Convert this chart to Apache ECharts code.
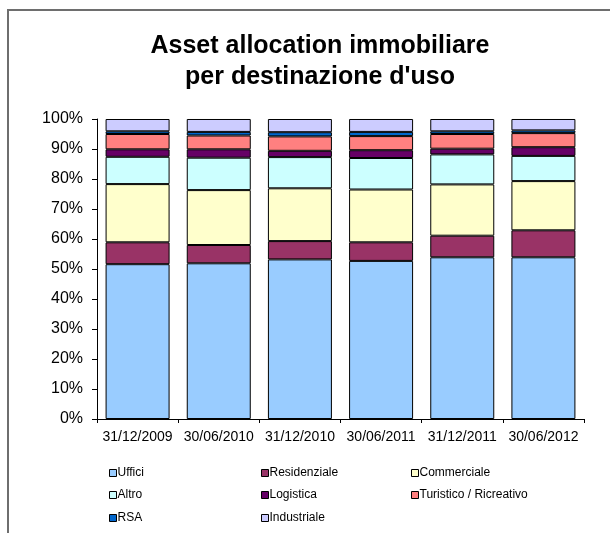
<!DOCTYPE html>
<html>
<head>
<meta charset="utf-8">
<script src="https://cdn.jsdelivr.net/npm/echarts@6/dist/echarts.min.js"></script>
<style>
  html, body { margin: 0; padding: 0; background: #fff; }
  #chart { width: 610px; height: 533px; }
</style>
</head>
<body>
<div id="chart"></div>
<script>
// =====================
// Data (percent of portfolio)
// =====================
const dates = ["31/12/2009", "30/06/2010", "31/12/2010", "30/06/2011", "31/12/2011", "30/06/2012"]

const uffici       = [51.6, 51.9, 53.2, 52.7, 53.9, 53.9]
const residenziale = [7.3, 6.1, 6.1, 6.2, 7.2, 9.0]
const commerciale  = [19.4, 18.3, 17.6, 17.6, 17.1, 16.4]
const altro        = [9.1, 10.8, 10.4, 10.5, 10.0, 8.4]
const logistica    = [2.5, 2.8, 2.1, 2.6, 1.9, 2.9]
const turistico    = [5.1, 4.6, 4.8, 4.7, 4.9, 4.7]
const rsa          = [0.9, 1.2, 1.4, 1.4, 0.9, 0.9]
const industriale  = [4.1, 4.3, 4.4, 4.3, 4.1, 3.8]

const yTicks = [0, 10, 20, 30, 40, 50, 60, 70, 80, 90, 100]

// =====================
// Series setup (bottom -> top)
// =====================
const SERIES = [
  { name: "Uffici",                 data: uffici,       color: "#99CCFF" },
  { name: "Residenziale",           data: residenziale, color: "#993366" },
  { name: "Commerciale",            data: commerciale,  color: "#FFFFCC" },
  { name: "Altro",                  data: altro,        color: "#CCFFFF" },
  { name: "Logistica",              data: logistica,    color: "#660066" },
  { name: "Turistico / Ricreativo", data: turistico,    color: "#FF8080" },
  { name: "RSA",                    data: rsa,          color: "#0066CC" },
  { name: "Industriale",            data: industriale,  color: "#CCCCFF" }
]

// legend grid: 3 columns, filled row by row
const LEGEND_X = [109, 261, 411]
const LEGEND_Y = [473, 495, 518]

const FONT = "Liberation Sans, Arial, sans-serif"

const echart = echarts.init(document.getElementById("chart"))

const option = {
  animation: false,
  backgroundColor: "#fff",

  title: {
    text: "Asset allocation immobiliare\nper destinazione d'uso",
    left: 315,
    textAlign: "center",
    top: 26,
    textStyle: {
      fontFamily: FONT,
      fontSize: 25,
      fontWeight: "bold",
      color: "#000",
      lineHeight: 31
    }
  },

  legend: SERIES.map((s, i) => ({
    data: [s.name],
    left: LEGEND_X[i % 3],
    top: LEGEND_Y[Math.floor(i / 3)] - 7,
    padding: 0,
    itemWidth: 7,
    itemHeight: 7,
    icon: "rect",
    selectedMode: false,
    textStyle: {
      fontFamily: FONT,
      fontSize: 12,
      lineHeight: 14,
      color: "#000",
      padding: [0, 0, 0, -4]
    },
    itemStyle: { borderColor: "#000", borderWidth: 1 }
  })),

  grid: {
    left: 97,
    right: 26,
    top: 119,
    bottom: 114
  },

  xAxis: {
    type: "category",
    data: dates,
    axisLine: { lineStyle: { color: "#000", width: 1 } },
    axisTick: { show: true, alignWithLabel: false, length: 4, lineStyle: { color: "#000" } },
    axisLabel: {
      interval: 0,
      fontFamily: FONT,
      fontSize: 14,
      color: "#000",
      margin: 11
    }
  },

  yAxis: {
    type: "value",
    min: yTicks[0],
    max: yTicks[yTicks.length - 1],
    interval: 10,
    axisLine: { show: true, lineStyle: { color: "#000", width: 1 } },
    axisTick: { show: true, length: 5, lineStyle: { color: "#000" } },
    splitLine: { show: false },
    axisLabel: {
      fontFamily: FONT,
      fontSize: 16,
      color: "#000",
      margin: 14,
      formatter: "{value}%"
    }
  },

  graphic: [
    {
      type: "polyline",
      shape: { points: [[8, 533], [8, 10], [610, 10]] },
      style: { stroke: "#6e6e6e", lineWidth: 2, fill: null },
      silent: true
    }
  ],

  series: SERIES.map(s => ({
    name: s.name,
    type: "bar",
    stack: "alloc",
    data: s.data,
    barWidth: 64,
    itemStyle: {
      color: s.color,
      borderColor: "#000",
      borderWidth: 1
    }
  }))
}

echart.setOption(option)
</script>
</body>
</html>
